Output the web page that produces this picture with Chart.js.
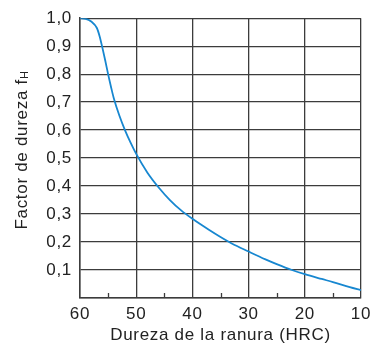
<!DOCTYPE html>
<html>
<head>
<meta charset="utf-8">
<script src="https://cdn.jsdelivr.net/npm/chart.js@4"></script>
<style>
  html, body { margin: 0; padding: 0; background: #fff; }
  #wrap { width: 378px; height: 346px; }
</style>
</head>
<body>
<div id="wrap"><canvas id="chart" width="378" height="346"></canvas></div>
<script>
// hardness of the raceway (HRC) and hardness factor fH
const hrc = [60, 59, 58, 57, 56.5, 56, 55.5, 55, 54.5, 54, 53, 52, 51, 50, 48, 46, 44, 42, 40, 37, 35, 33, 30, 27, 25, 22.3, 20, 17, 15, 12, 10];
const fh  = [1.0, 0.998, 0.988, 0.965, 0.935, 0.893, 0.848, 0.80, 0.756, 0.715, 0.652, 0.60, 0.555, 0.515, 0.448, 0.395, 0.35, 0.313, 0.283, 0.243, 0.218, 0.195, 0.166, 0.138, 0.121, 0.10, 0.085, 0.068, 0.057, 0.039, 0.028];
const xTicks = [60, 50, 40, 30, 20, 10];
const minorX = [55, 45, 35, 25, 15];

const fontFam = "'Liberation Sans', Arial, sans-serif";
const gridCol = "#3c3c3c";
const textCol = "#222";

// a little tracking, like the printed labels
const spacing = {
    id: "spacing",
    beforeUpdate(chart) { chart.ctx.letterSpacing = "0.7px"; },
    beforeDraw(chart) { chart.ctx.letterSpacing = "0.7px"; }
};

// small inner tick marks on the bottom axis + y title with subscript H
const extras = {
    id: "extras",
    afterDraw(chart) {
        const ctx = chart.ctx;
        const xs = chart.scales.x;
        const area = chart.chartArea;
        ctx.save();
        ctx.strokeStyle = gridCol;
        ctx.lineWidth = 1.3;
        minorX.forEach(v => {
            const px = Math.round(xs.getPixelForValue(v)) + 0.5;
            ctx.beginPath();
            ctx.moveTo(px, area.bottom);
            ctx.lineTo(px, area.bottom - 5);
            ctx.stroke();
        });

        const main = "Factor de dureza f";
        ctx.letterSpacing = "0.7px";
        ctx.font = "17px " + fontFam;
        const w1 = ctx.measureText(main).width;
        ctx.font = "11px " + fontFam;
        const w2 = ctx.measureText("H").width;
        const cy = 150;
        ctx.translate(22, cy);
        ctx.rotate(-Math.PI / 2);
        ctx.fillStyle = textCol;
        ctx.textBaseline = "middle";
        ctx.textAlign = "left";
        const start = -(w1 + w2) / 2;
        ctx.font = "17px " + fontFam;
        ctx.fillText(main, start, 0);
        ctx.font = "11px " + fontFam;
        ctx.fillText("H", start + w1, 3);
        ctx.restore();
    }
};

new Chart(document.getElementById("chart").getContext("2d"), {
    type: "scatter",
    data: {
        datasets: [{
            data: hrc.map((h, i) => ({ x: h, y: fh[i] })),
            showLine: true,
            borderColor: "#1787d0",
            borderWidth: 1.8,
            pointRadius: 0,
            cubicInterpolationMode: "monotone",
            fill: false
        }]
    },
    options: {
        responsive: false,
        animation: false,
        layout: { padding: { top: 11, right: 17, left: 0, bottom: 0 } },
        plugins: { legend: { display: false }, tooltip: { enabled: false } },
        scales: {
            x: {
                type: "linear",
                reverse: true,
                min: 10, max: 60,
                afterBuildTicks: s => { s.ticks = xTicks.map(v => ({ value: v })); },
                afterFit: s => { s.height = 48; },
                grid: { color: gridCol, lineWidth: 1.3, drawTicks: false },
                border: { color: gridCol, width: 1.5 },
                ticks: { color: textCol, padding: 6, maxRotation: 0, font: { family: fontFam, size: 17 } },
                title: { display: true, text: "Dureza de la ranura (HRC)", color: textCol, padding: { top: 5, bottom: 0 }, font: { family: fontFam, size: 17 } }
            },
            y: {
                min: 0, max: 1,
                ticks: {
                    stepSize: 0.1,
                    color: textCol,
                    padding: 8,
                    font: { family: fontFam, size: 17 },
                    callback: v => v < 0.05 ? "" : v.toFixed(1).replace(".", ",")
                },
                afterFit: s => { s.width = 80; },
                grid: { color: gridCol, lineWidth: 1.3, drawTicks: false },
                border: { color: gridCol, width: 1.5 }
            }
        }
    },
    plugins: [spacing, extras]
});
</script>
</body>
</html>
